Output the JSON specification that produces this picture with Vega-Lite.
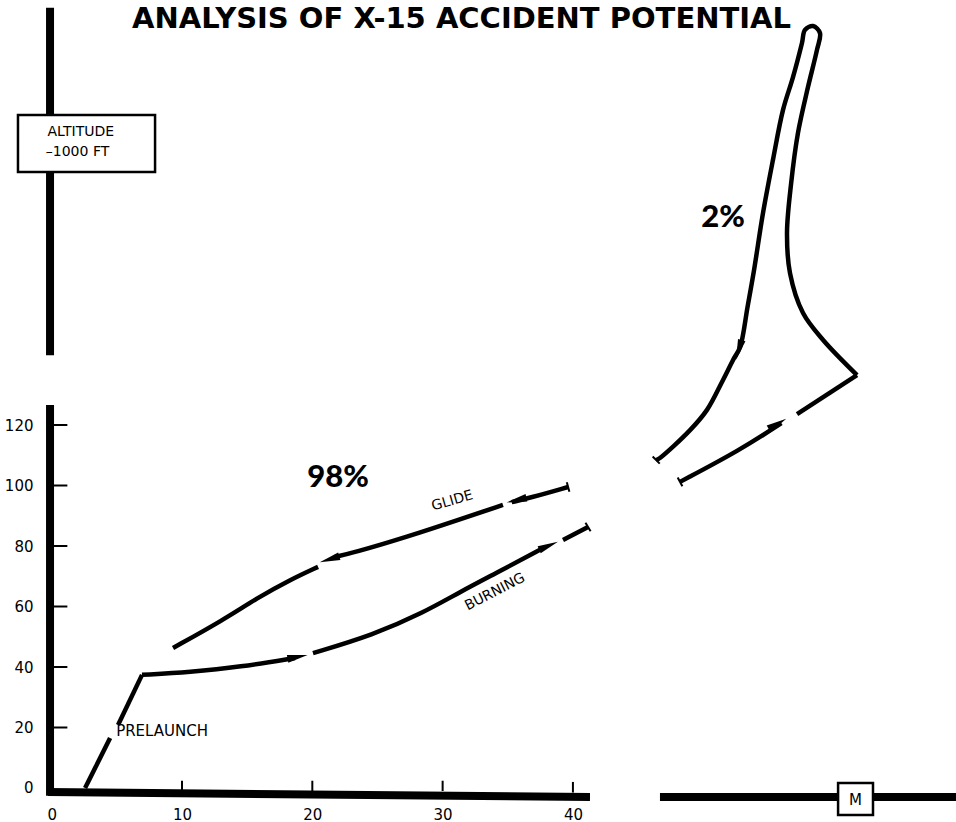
{
  "$schema": "https://vega.github.io/schema/vega-lite/v6.json",
  "width": 956,
  "height": 822,
  "padding": 0,
  "autosize": {"type": "none"},
  "background": "white",
  "config": {"view": {"stroke": null}},
  "datasets": {
    "axesThick": [
      {"x": -0.13, "y": 143.1, "x2": -0.13, "y2": 257.9},
      {"x": -0.13, "y": -2.6, "x2": -0.13, "y2": 126.6},
      {"x": -0.28, "y": -1.32, "x2": 41.31, "y2": -2.98},
      {"x": 46.68, "y": -2.98, "x2": 69.4, "y2": -2.98}
    ],
    "ticks": [
      {"x": 0.0, "x2": 1.2, "y": 20, "y2": 20},
      {"x": 0.0, "x2": 1.2, "y": 40, "y2": 40},
      {"x": 0.0, "x2": 1.2, "y": 60, "y2": 60},
      {"x": 0.0, "x2": 1.2, "y": 80, "y2": 80},
      {"x": 0.0, "x2": 1.2, "y": 100, "y2": 100},
      {"x": 0.0, "x2": 1.2, "y": 120, "y2": 120},
      {"x": 10, "x2": 10, "y": -1, "y2": 2.4},
      {"x": 20, "x2": 20, "y": -1, "y2": 2.4},
      {"x": 30, "x2": 30, "y": -1, "y2": 2.4},
      {"x": 40, "x2": 40, "y": -1.5, "y2": 2.0}
    ],
    "boxes": [
      {"x": -2.59, "x2": 7.93, "y": 203.6, "y2": 222.5},
      {"x": 60.35, "x2": 63.03, "y": -8.93, "y2": 1.65}
    ],
    "curvesLow": [
      {"seg": "P1", "ord": 1, "x": 2.56, "y": 0},
      {"seg": "P1", "ord": 2, "x": 4.48, "y": 16.5},
      {"seg": "P2", "ord": 1, "x": 5.09, "y": 20.8},
      {"seg": "P2", "ord": 2, "x": 6.93, "y": 37.4},
      {"seg": "B1", "ord": 1, "x": 6.93, "y": 37.4},
      {"seg": "B1", "ord": 2, "x": 10.61, "y": 38.35},
      {"seg": "B1", "ord": 3, "x": 14.45, "y": 40.0},
      {"seg": "B1", "ord": 4, "x": 18.67, "y": 43.0},
      {"seg": "B2", "ord": 1, "x": 20.05, "y": 44.6},
      {"seg": "B2", "ord": 2, "x": 24.66, "y": 50.6},
      {"seg": "B2", "ord": 3, "x": 28.5, "y": 57.9},
      {"seg": "B2", "ord": 4, "x": 31.33, "y": 64.8},
      {"seg": "B2", "ord": 5, "x": 34.4, "y": 71.7},
      {"seg": "B2", "ord": 6, "x": 37.7, "y": 79.3},
      {"seg": "B3", "ord": 1, "x": 39.24, "y": 82.0},
      {"seg": "B3", "ord": 2, "x": 41.16, "y": 86.3},
      {"seg": "G1", "ord": 1, "x": 39.63, "y": 99.5},
      {"seg": "G1", "ord": 2, "x": 36.7, "y": 95.9},
      {"seg": "G1", "ord": 3, "x": 35.3, "y": 94.5},
      {"seg": "G2", "ord": 1, "x": 34.63, "y": 93.6},
      {"seg": "G2", "ord": 2, "x": 31.33, "y": 88.8},
      {"seg": "G2", "ord": 3, "x": 27.27, "y": 83.0},
      {"seg": "G2", "ord": 4, "x": 23.12, "y": 77.7},
      {"seg": "G2", "ord": 5, "x": 21.74, "y": 76.4},
      {"seg": "G3", "ord": 1, "x": 20.44, "y": 73.1},
      {"seg": "G3", "ord": 2, "x": 18.29, "y": 68.8},
      {"seg": "G3", "ord": 3, "x": 15.76, "y": 62.8},
      {"seg": "G3", "ord": 4, "x": 13.15, "y": 55.5},
      {"seg": "G3", "ord": 5, "x": 9.31, "y": 46.3},
      {"seg": "R1", "ord": 1, "x": 48.22, "y": 101.2},
      {"seg": "R1", "ord": 2, "x": 52.83, "y": 111.7},
      {"seg": "R1", "ord": 3, "x": 56.0, "y": 120.6},
      {"seg": "R2", "ord": 1, "x": 57.2, "y": 123.6},
      {"seg": "R2", "ord": 2, "x": 61.8, "y": 136.5}
    ],
    "curvesSpike": [
      {"seg": "R3", "ord": 1, "x": 61.8, "y": 136.5},
      {"seg": "R3", "ord": 2, "x": 59.2, "y": 148.1},
      {"seg": "R3", "ord": 3, "x": 57.66, "y": 157.0},
      {"seg": "R3", "ord": 4, "x": 56.66, "y": 170.2},
      {"seg": "R3", "ord": 5, "x": 56.43, "y": 183.5},
      {"seg": "R3", "ord": 6, "x": 56.75, "y": 200.0},
      {"seg": "R3", "ord": 7, "x": 57.27, "y": 216.5},
      {"seg": "R3", "ord": 8, "x": 58.04, "y": 231.7},
      {"seg": "R3", "ord": 9, "x": 58.73, "y": 244.0},
      {"seg": "R3", "ord": 10, "x": 58.96, "y": 249.6},
      {"seg": "R3", "ord": 11, "x": 58.43, "y": 251.9},
      {"seg": "R3", "ord": 12, "x": 57.81, "y": 250.6},
      {"seg": "R3", "ord": 13, "x": 57.58, "y": 246.3},
      {"seg": "R3", "ord": 14, "x": 56.89, "y": 235.0},
      {"seg": "R3", "ord": 15, "x": 56.12, "y": 224.1},
      {"seg": "R3", "ord": 16, "x": 55.35, "y": 207.6},
      {"seg": "R3", "ord": 17, "x": 54.59, "y": 190.1},
      {"seg": "R3", "ord": 18, "x": 53.9, "y": 171.2},
      {"seg": "R3", "ord": 19, "x": 53.4, "y": 159.0},
      {"seg": "R3", "ord": 20, "x": 52.83, "y": 145.8},
      {"seg": "R3", "ord": 21, "x": 52.29, "y": 141.5},
      {"seg": "R3", "ord": 22, "x": 51.52, "y": 134.9},
      {"seg": "R3", "ord": 23, "x": 50.29, "y": 125.0},
      {"seg": "R3", "ord": 24, "x": 48.99, "y": 118.3},
      {"seg": "R3", "ord": 25, "x": 46.68, "y": 109.1},
      {"seg": "R3", "ord": 26, "x": 46.39, "y": 108.4}
    ],
    "arrows": [
      {"x": 35.71, "y": 95.2, "heading": 257},
      {"x": 21.36, "y": 75.7, "heading": 253},
      {"x": 18.83, "y": 43.3, "heading": 79},
      {"x": 38.09, "y": 80.0, "heading": 67},
      {"x": 55.66, "y": 120.3, "heading": 60},
      {"x": 52.75, "y": 145.0, "heading": 196}
    ],
    "endTicks": [
      {"x": 39.63, "y": 99.5, "heading": 75},
      {"x": 41.16, "y": 86.3, "heading": 59},
      {"x": 48.22, "y": 101.2, "heading": 62},
      {"x": 46.39, "y": 108.4, "heading": 45}
    ]
  },
  "encoding": {
    "x": {
      "field": "x", "type": "quantitative",
      "scale": {"domain": [-3.97, 69.4], "nice": false, "zero": false},
      "axis": {
        "values": [0, 10, 20, 30, 40], "offset": -28, "ticks": false, "domain": false, "grid": false,
        "labelPadding": 13, "labelFontSize": 15, "labelFont": "DejaVu Sans", "labelColor": "black",
        "labelOverlap": false, "labelFlush": false, "title": null
      }
    },
    "y": {
      "field": "y", "type": "quantitative",
      "scale": {"domain": [-11.24, 260.5], "nice": false, "zero": false},
      "axis": {
        "values": [0, 20, 40, 60, 80, 100, 120], "offset": -50, "ticks": false, "domain": false, "grid": false,
        "labelPadding": 17, "labelFontSize": 15, "labelFont": "DejaVu Sans", "labelColor": "black",
        "labelOverlap": false, "labelFlush": false, "title": null
      }
    }
  },
  "layer": [
    {
      "data": {"name": "axesThick"},
      "mark": {"type": "rule", "strokeWidth": 8, "color": "black", "strokeCap": "butt"},
      "encoding": {"x2": {"field": "x2"}, "y2": {"field": "y2"}}
    },
    {
      "data": {"name": "ticks"},
      "mark": {"type": "rule", "strokeWidth": 2, "color": "black"},
      "encoding": {"x2": {"field": "x2"}, "y2": {"field": "y2"}}
    },
    {
      "data": {"name": "boxes"},
      "mark": {"type": "rect", "fill": "white", "stroke": "black", "strokeWidth": 2.5},
      "encoding": {"x2": {"field": "x2"}, "y2": {"field": "y2"}}
    },
    {
      "data": {"name": "curvesLow"},
      "mark": {"type": "line", "color": "black", "strokeWidth": 4.5, "interpolate": "basis", "strokeCap": "butt"},
      "encoding": {"detail": {"field": "seg"}, "order": {"field": "ord", "type": "quantitative"}}
    },
    {
      "data": {"name": "curvesSpike"},
      "mark": {"type": "line", "color": "black", "strokeWidth": 4.5, "interpolate": "catmull-rom", "strokeCap": "butt"},
      "encoding": {"detail": {"field": "seg"}, "order": {"field": "ord", "type": "quantitative"}}
    },
    {
      "data": {"name": "arrows"},
      "mark": {"type": "point", "shape": "M0,-1L0.36,0.9L-0.36,0.9Z", "filled": true, "color": "black", "size": 460, "opacity": 1},
      "encoding": {"angle": {"field": "heading", "type": "quantitative", "scale": null}}
    },
    {
      "data": {"name": "endTicks"},
      "mark": {"type": "point", "shape": "stroke", "filled": false, "color": "black", "strokeWidth": 2, "size": 100, "opacity": 1},
      "encoding": {"angle": {"field": "heading", "type": "quantitative", "scale": null}}
    },
    {
      "data": {"values": [{"x": 31.45, "y": 254.2, "label": "ANALYSIS OF X-15 ACCIDENT POTENTIAL"}]},
      "mark": {"type": "text", "font": "DejaVu Sans", "fontWeight": "bold", "fontSize": 29, "color": "black", "align": "center", "baseline": "middle"},
      "encoding": {"text": {"field": "label"}}
    },
    {
      "data": {"values": [{"x": 21.97, "y": 102.5, "label": "98%"}, {"x": 51.52, "y": 188.3, "label": "2%"}]},
      "mark": {"type": "text", "font": "Lato", "fontWeight": 900, "fontSize": 31, "color": "black", "align": "center", "baseline": "middle"},
      "encoding": {"text": {"field": "label"}}
    },
    {
      "data": {"values": [{"x": 2.23, "y": 217.0, "label": "ALTITUDE"}, {"x": 1.98, "y": 210.2, "label": "–1000 FT"}]},
      "mark": {"type": "text", "font": "DejaVu Sans", "fontSize": 14, "color": "black", "align": "center", "baseline": "middle"},
      "encoding": {"text": {"field": "label"}}
    },
    {
      "data": {"values": [{"x": 61.69, "y": -3.97, "label": "M"}]},
      "mark": {"type": "text", "font": "DejaVu Sans", "fontSize": 15, "color": "black", "align": "center", "baseline": "middle"},
      "encoding": {"text": {"field": "label"}}
    },
    {
      "data": {"values": [{"x": 8.47, "y": 18.8, "label": "PRELAUNCH"}]},
      "mark": {"type": "text", "font": "DejaVu Sans", "fontSize": 15, "color": "black", "align": "center", "baseline": "middle"},
      "encoding": {"text": {"field": "label"}}
    },
    {
      "data": {"values": [{"x": 30.75, "y": 94.9, "label": "GLIDE"}]},
      "mark": {"type": "text", "font": "DejaVu Sans", "fontSize": 14, "color": "black", "align": "center", "baseline": "middle", "angle": -16},
      "encoding": {"text": {"field": "label"}}
    },
    {
      "data": {"values": [{"x": 34.02, "y": 64.8, "label": "BURNING"}]},
      "mark": {"type": "text", "font": "DejaVu Sans", "fontSize": 14, "color": "black", "align": "center", "baseline": "middle", "angle": -27},
      "encoding": {"text": {"field": "label"}}
    }
  ]
}
